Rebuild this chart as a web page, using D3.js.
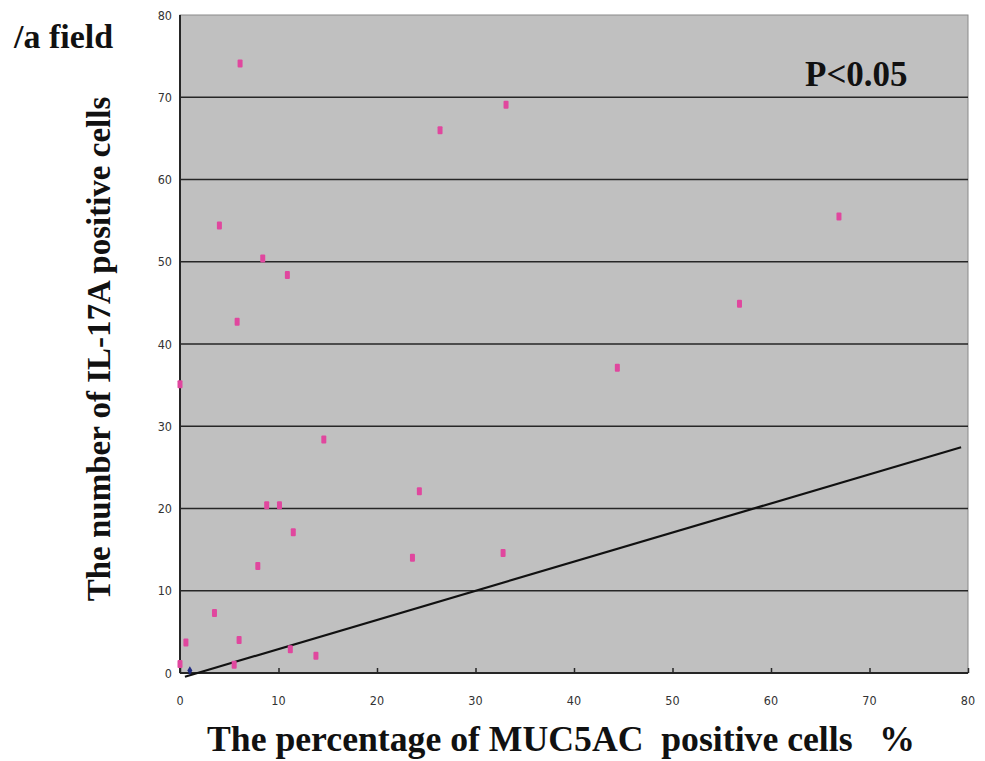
<!DOCTYPE html>
<html>
<head>
<meta charset="utf-8">
<script src="https://cdn.jsdelivr.net/npm/d3@7"></script>
<style>
  body { margin: 0; background: #ffffff; }
  svg text { white-space: pre; }
</style>
</head>
<body>
<svg id="chart" width="985" height="761"></svg>
<script>
// MUC5AC % (x) AND IL-17A CELLS PER FIELD (y)
var mucPercent = [6.1, 26.4, 33.1, 4.0, 8.4, 10.9, 5.8, 66.9, 56.8, 44.4, 0.0, 14.6,
  24.3, 8.8, 10.1, 11.5, 7.9, 23.6, 32.8, 3.5, 0.6, 6.0, 0.0, 5.5, 11.2, 13.8];
var il17Count = [74.1, 66.0, 69.1, 54.4, 50.4, 48.4, 42.7, 55.5, 44.9, 37.1, 35.1, 28.4,
  22.1, 20.4, 20.4, 17.1, 13.0, 14.0, 14.6, 7.3, 3.7, 4.0, 1.1, 1.0, 2.9, 2.1];

// SECOND SERIES (ONE BLUE DIAMOND NEAR ORIGIN)
var otherX = [1.0];
var otherY = [0.3];

// REGRESSION LINE ENDPOINTS
var trendX = [0.5, 79.3];
var trendY = [-0.45, 27.45];

var xTicks = [0, 10, 20, 30, 40, 50, 60, 70, 80];
var yTicks = [0, 10, 20, 30, 40, 50, 60, 70, 80];

var pValueText = "P<0.05";
var unitText = "/a field";
var xTitle = "The percentage of MUC5AC  positive cells   %";
var yTitle = "The number of IL-17A positive cells";

drawChart();

function drawChart() {
  var svg = d3.select("#chart");
  var left = 180, right = 968, top = 15, bottom = 673;

  var x = d3.scaleLinear().domain([0, 80]).range([left, right]);
  var y = d3.scaleLinear().domain([0, 80]).range([bottom, top]);

  //PLOT BACKGROUND
  svg
    .append("rect")
    .attr("x", left)
    .attr("y", top)
    .attr("width", right - left)
    .attr("height", bottom - top)
    .attr("fill", "#c0c0c0")
    .attr("stroke", "#8a8a8a")
    .attr("stroke-width", 1);

  //HORIZONTAL GRIDLINES
  svg
    .append("g")
    .selectAll("line")
    .data(yTicks.filter((d) => d > 0 && d < 80))
    .enter()
    .append("line")
    .attr("x1", left)
    .attr("x2", right)
    .attr("y1", (d) => y(d))
    .attr("y2", (d) => y(d))
    .attr("stroke", "#262626")
    .attr("stroke-width", 1.6);

  //X AXIS (TICKS POINT UP INTO THE PLOT)
  var xAxis = d3
    .axisTop(x)
    .tickValues(xTicks)
    .tickSize(5)
    .tickFormat("");
  var gx = svg
    .append("g")
    .attr("transform", `translate(0, ${bottom})`)
    .call(xAxis);
  gx.select(".domain").remove();
  gx.selectAll("line").attr("stroke", "#262626").attr("stroke-width", 1.5);

  svg
    .append("g")
    .selectAll("text")
    .data(xTicks)
    .enter()
    .append("text")
    .attr("x", (d) => x(d))
    .attr("y", 705)
    .attr("text-anchor", "middle")
    .attr("font-family", "'Liberation Sans Narrow', 'DejaVu Sans Condensed', sans-serif")
    .attr("font-size", 12.5)
    .attr("fill", "#333333")
    .text((d) => d);

  //Y AXIS LABELS
  var yAxis = d3.axisLeft(y).tickValues(yTicks).tickSize(0).tickPadding(8);
  var gy = svg.append("g").attr("transform", `translate(${left}, 0)`).call(yAxis);
  gy.select(".domain").remove();
  gy.selectAll("text")
    .attr("font-family", "'Liberation Sans Narrow', 'DejaVu Sans Condensed', sans-serif")
    .attr("font-size", 12.5)
    .attr("fill", "#333333");

  //AXIS LINES
  svg
    .append("line")
    .attr("x1", left)
    .attr("x2", right)
    .attr("y1", bottom)
    .attr("y2", bottom)
    .attr("stroke", "#262626")
    .attr("stroke-width", 2);

  svg
    .append("line")
    .attr("x1", left)
    .attr("x2", left)
    .attr("y1", top)
    .attr("y2", bottom)
    .attr("stroke", "#262626")
    .attr("stroke-width", 2);

  //TREND LINE
  svg
    .append("line")
    .attr("x1", x(trendX[0]))
    .attr("x2", x(trendX[1]))
    .attr("y1", y(trendY[0]))
    .attr("y2", y(trendY[1]))
    .attr("stroke", "#111111")
    .attr("stroke-width", 2.2);

  //PINK POINTS
  var points = _zip(mucPercent, il17Count);
  svg
    .append("g")
    .selectAll("rect")
    .data(points)
    .enter()
    .append("rect")
    .attr("x", (d) => x(d[0]) - 2.5)
    .attr("y", (d) => y(d[1]) - 4)
    .attr("width", 5)
    .attr("height", 8)
    .attr("rx", 1)
    .attr("fill", "#e0479e");

  //BLUE DIAMOND
  svg
    .append("g")
    .selectAll("path")
    .data(_zip(otherX, otherY))
    .enter()
    .append("path")
    .attr("d", d3.symbol().type(d3.symbolDiamond).size(22))
    .attr("transform", (d) => `translate(${x(d[0])}, ${y(d[1])})`)
    .attr("fill", "#1f2a80");

  //TEXTS
  svg
    .append("text")
    .attr("x", 805)
    .attr("y", 86)
    .attr("font-family", "'Liberation Serif', 'Times New Roman', serif")
    .attr("font-weight", "bold")
    .attr("font-size", 35)
    .attr("fill", "#111111")
    .text(pValueText);

  svg
    .append("text")
    .attr("x", 14)
    .attr("y", 48)
    .attr("font-family", "'Liberation Serif', 'Times New Roman', serif")
    .attr("font-weight", "bold")
    .attr("font-size", 34)
    .attr("fill", "#111111")
    .text(unitText);

  svg
    .append("text")
    .attr("x", 207)
    .attr("y", 751)
    .attr("font-family", "'Liberation Serif', 'Times New Roman', serif")
    .attr("font-weight", "bold")
    .attr("font-size", 35.7)
    .attr("fill", "#111111")
    .text(xTitle);

  svg
    .append("text")
    .attr("transform", "translate(110, 349) rotate(-90)")
    .attr("text-anchor", "middle")
    .attr("font-family", "'Liberation Serif', 'Times New Roman', serif")
    .attr("font-weight", "bold")
    .attr("font-size", 33)
    .attr("fill", "#111111")
    .text(yTitle);
}

function _zip(a, b) {
  return a.map((d, i) => [d, b[i]]);
}
</script>
</body>
</html>
